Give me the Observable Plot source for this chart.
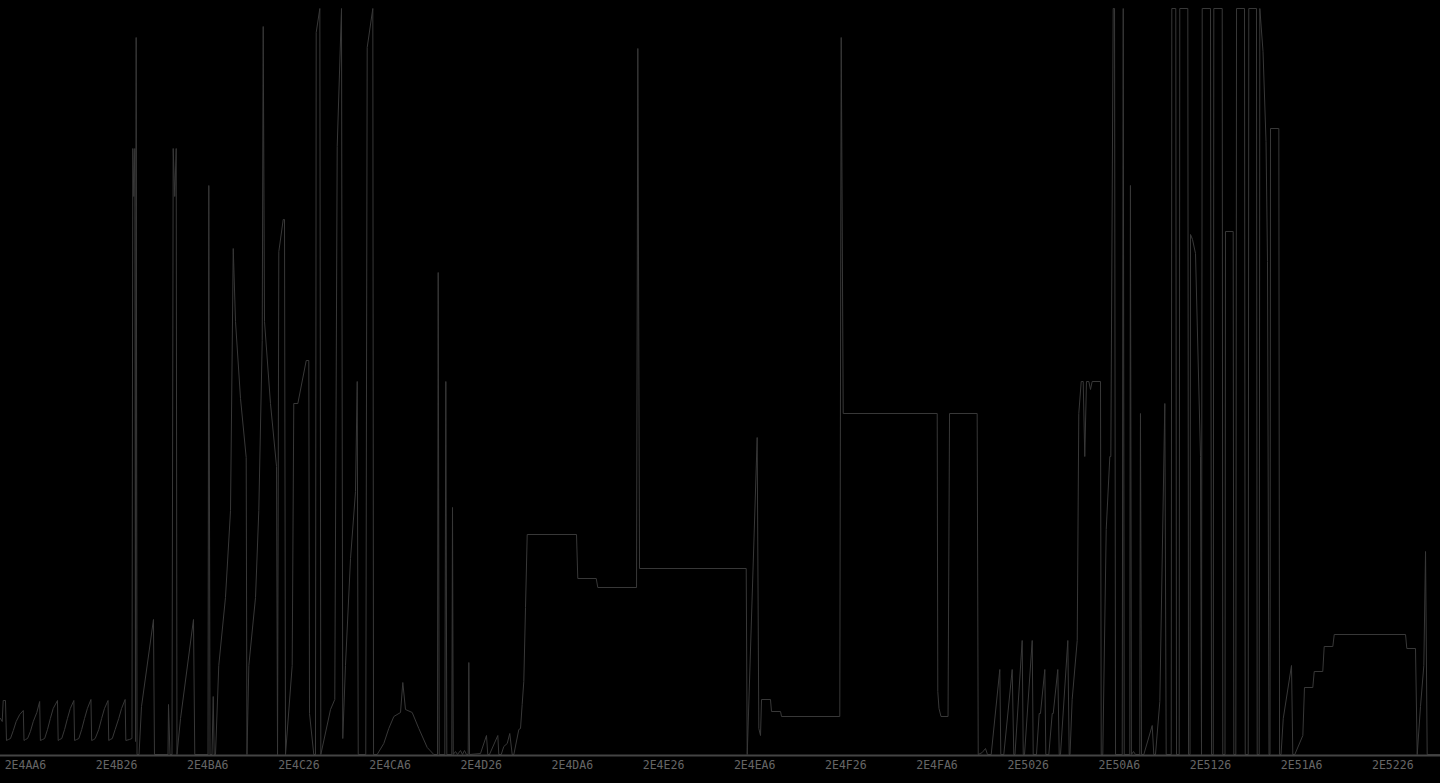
<!DOCTYPE html>
<html>
<head>
<meta charset="utf-8">
<script src="https://cdn.jsdelivr.net/npm/d3@7"></script>
<script src="https://cdn.jsdelivr.net/npm/@observablehq/plot@0.6"></script>
<style>
html,body{margin:0;padding:0;background:#000;overflow:hidden}
#chart svg{display:block}
</style>
</head>
<body>
<div id="chart"></div>
<script>
// Address window (start address and width in bytes)
const BASE = 0x2E4A83;
const SPAN = 2022;

// Tick labels (hex addresses)
const tickLabels = ["2E4AA6","2E4B26","2E4BA6","2E4C26","2E4CA6","2E4D26","2E4DA6","2E4E26",
                    "2E4EA6","2E4F26","2E4FA6","2E5026","2E50A6","2E5126","2E51A6","2E5226"];

// Offsets from BASE
const addr = [
0,2.4,3.8,7,8.4,11,14,18,22,27,32,33,35,38,42,46,51,55,56,59,62,66,70,74,80,81,83,86,90,94,98,103,104,
107,110,114,118,122,127,128,131,133,138,142,146,151,152,154,157,161,166,170,175,176,181,184.6,185.8,187.2,
188.6,189.6,190.5,191.7,
194.5,198,214.8,216.2,235.2,235.9,238,240.8,242.5,244.7,246.7,247.8,252.8,271,272.8,291.4,292.5,294.2,297,
298.7,300.1,301.9,306.5,315.9,323,326.8,330,337,345,346.1,
348.7,358.1,362.7,367.5,368.9,370.7,379.1,387.6,389,390.8,397,398.8,400.2,409.6,411.8,417.5,429.3,432.9,
433.9,439.9,442.3,443.3,448.4,449.8,463.4,469.4,472.8,478.8,480.6,484.4,491.5,498.5,500.9,502.3,512.9,
514.9,522.8,523.8,
528.9,538.2,545.2,552.3,561.7,564.9,568.7,578.1,587.4,599.2,608.4,613.6,614.6,616,623.9,625.3,626.7,633.7,
634.7,635.7,638.9,641.7,645.9,648.7,651.5,654.3,656.7,657.6,658.6,
674,682.4,684.2,686.6,698.3,699.7,703.1,706.7,711.5,715.1,718.5,720.8,727.8,730.2,732.5,734.8,737.2,739.6,
808.8,810.6,836.5,838.7,893.1,894.9,897.3,1047.1,1048.5,1062.5,1064.8,1067.2,1068.6,1081.2,1082.6,1095.3,
1096.7,1178.5,1180.5,1183.3,1315.3,1316.1,1317.8,1320.6,1330.5,1332.6,1371.4,1372.9,
1378.5,1383.1,1385.9,1391.1,1403.2,1404.6,1408.8,1420.6,1422.8,1424.5,1434.6,1436.1,1437.9,1448.7,1450.1,
1454.7,1458.5,1460.3,1466.4,1467.8,1472,1476.8,1478.2,1484.6,1486.6,1488.4,1498.7,1500.6,1501.8,1504.8,
1511.9,1514.1,1517.5,1520.3,1522.5,1524.9,1528.2,1530.5,1532.9,1544.6,1545.6,
1547.8,1552.6,1557.7,1559.1,1562.4,1564.3,1565.7,1575.1,1576.5,1577.9,1585.7,1586.6,1588,1590.9,1593.7,
1599.7,1600.7,1602.2,1605.4,1617.2,1619.4,1621.8,1627.9,1634.9,1636.8,1643.9,1644.7,1650.3,1651.3,1655.1,
1655.9,1667.2,1668.2,1670.3,1671,1673.8,1678,1685,1686.4,
1687.4,1699,1700.5,1702.9,1703.7,1715.5,1716.3,1719.4,1720.1,1730.9,1731.8,1734.6,1735.6,1746.8,1747.8,
1752,1752.8,1763.6,1764.6,1767.4,1768.3,1772.8,1777,1779.1,1781.2,1782.6,1783.3,1795,1796,1798.1,1801.2,
1812.8,1814.6,1817.4,1828.7,1831,1842.7,1844.7,1856.7,1858.7,1870.8,1872.8,1972.9,1974.7,1986.9,1989.3,
1993.9,1998.6,2001,2003.3,2022
];

// Level at each offset
const level = [
36,33,54,54,14,15,16,24,33,40,44,14,15,16,23,33,42,53,14,15,16,25,36,46,54,14,15,16,25,36,46,54,14,
15,16,25,36,46,55,14,15,16,25,36,46,54,14,15,16,25,36,46,55,14,15,16,606,558,
606,13,717,0,
0,48,135,0,0,50,0,0,606,558,606,0,36,135,0,0,569,0,0,
58,0,0,89,157,244,506,433,356,297,0,
89,157,244,414,728,433,351,288,0,503,535,535,0,89,351,351,394,394,
41,0,0,722,746,0,45,55,608,746,16,89,196,263,373,0,0,
707,746,0,
0,11,26,38,42,72,45,42,26,7,0,0,482,0,0,373,0,0,
247,0,3,0,4,0,4,0,0,92,0,
1,19,0,0,19,0,0,8,11,21,0,0,25,26,50,73,147,220,
220,176,176,167,167,706,186,186,0,317,26,19,55,55,43,43,
38,38,717,341,341,63,46,38,38,341,341,0,
2,6,0,0,85,0,0,85,0,0,114,0,0,114,0,
0,41,41,85,0,0,41,41,85,0,0,114,0,0,55,
114,341,373,373,298,373,373,365,373,373,0,
0,225,298,298,746,746,0,0,746,0,0,569,0,3,0,
0,341,0,0,29,0,0,53,351,0,0,746,746,0,0,
746,746,0,0,520,515,501,298,0,
746,746,0,0,746,746,0,0,523,523,0,0,746,746,0,
0,746,746,0,0,746,703,613,493,0,0,626,626,0,0,36,
89,0,0,19,67,67,83,83,108,108,120,120,106,106,0,
48,89,203,0,0
];

const rows = addr.map((a, i) => ({a, v: level[i]}));
const tickPos = tickLabels.map(t => parseInt(t, 16) - BASE);

const chart = Plot.plot({
  width: 1440,
  height: 783,
  marginLeft: 0,
  marginRight: 0,
  marginTop: 8,
  marginBottom: 29,
  style: {background: "#000", color: "#666", fontFamily: "'DejaVu Sans Mono', monospace", fontSize: "11.5px"},
  x: {domain: [0, SPAN]},
  y: {domain: [0, 746], axis: null},
  marks: [
    Plot.line(rows, {x: "a", y: "v", stroke: "#383838", strokeWidth: 1}),
    Plot.ruleY([0], {stroke: "#444", strokeWidth: 2, dy: 1}),
    Plot.axisX({
      ticks: tickPos,
      tickFormat: (d, i) => tickLabels[i],
      tickSize: 0,
      tickPadding: 6,
      fill: "#666",
      label: null
    })
  ]
});
document.getElementById("chart").appendChild(chart);
</script>
</body>
</html>
